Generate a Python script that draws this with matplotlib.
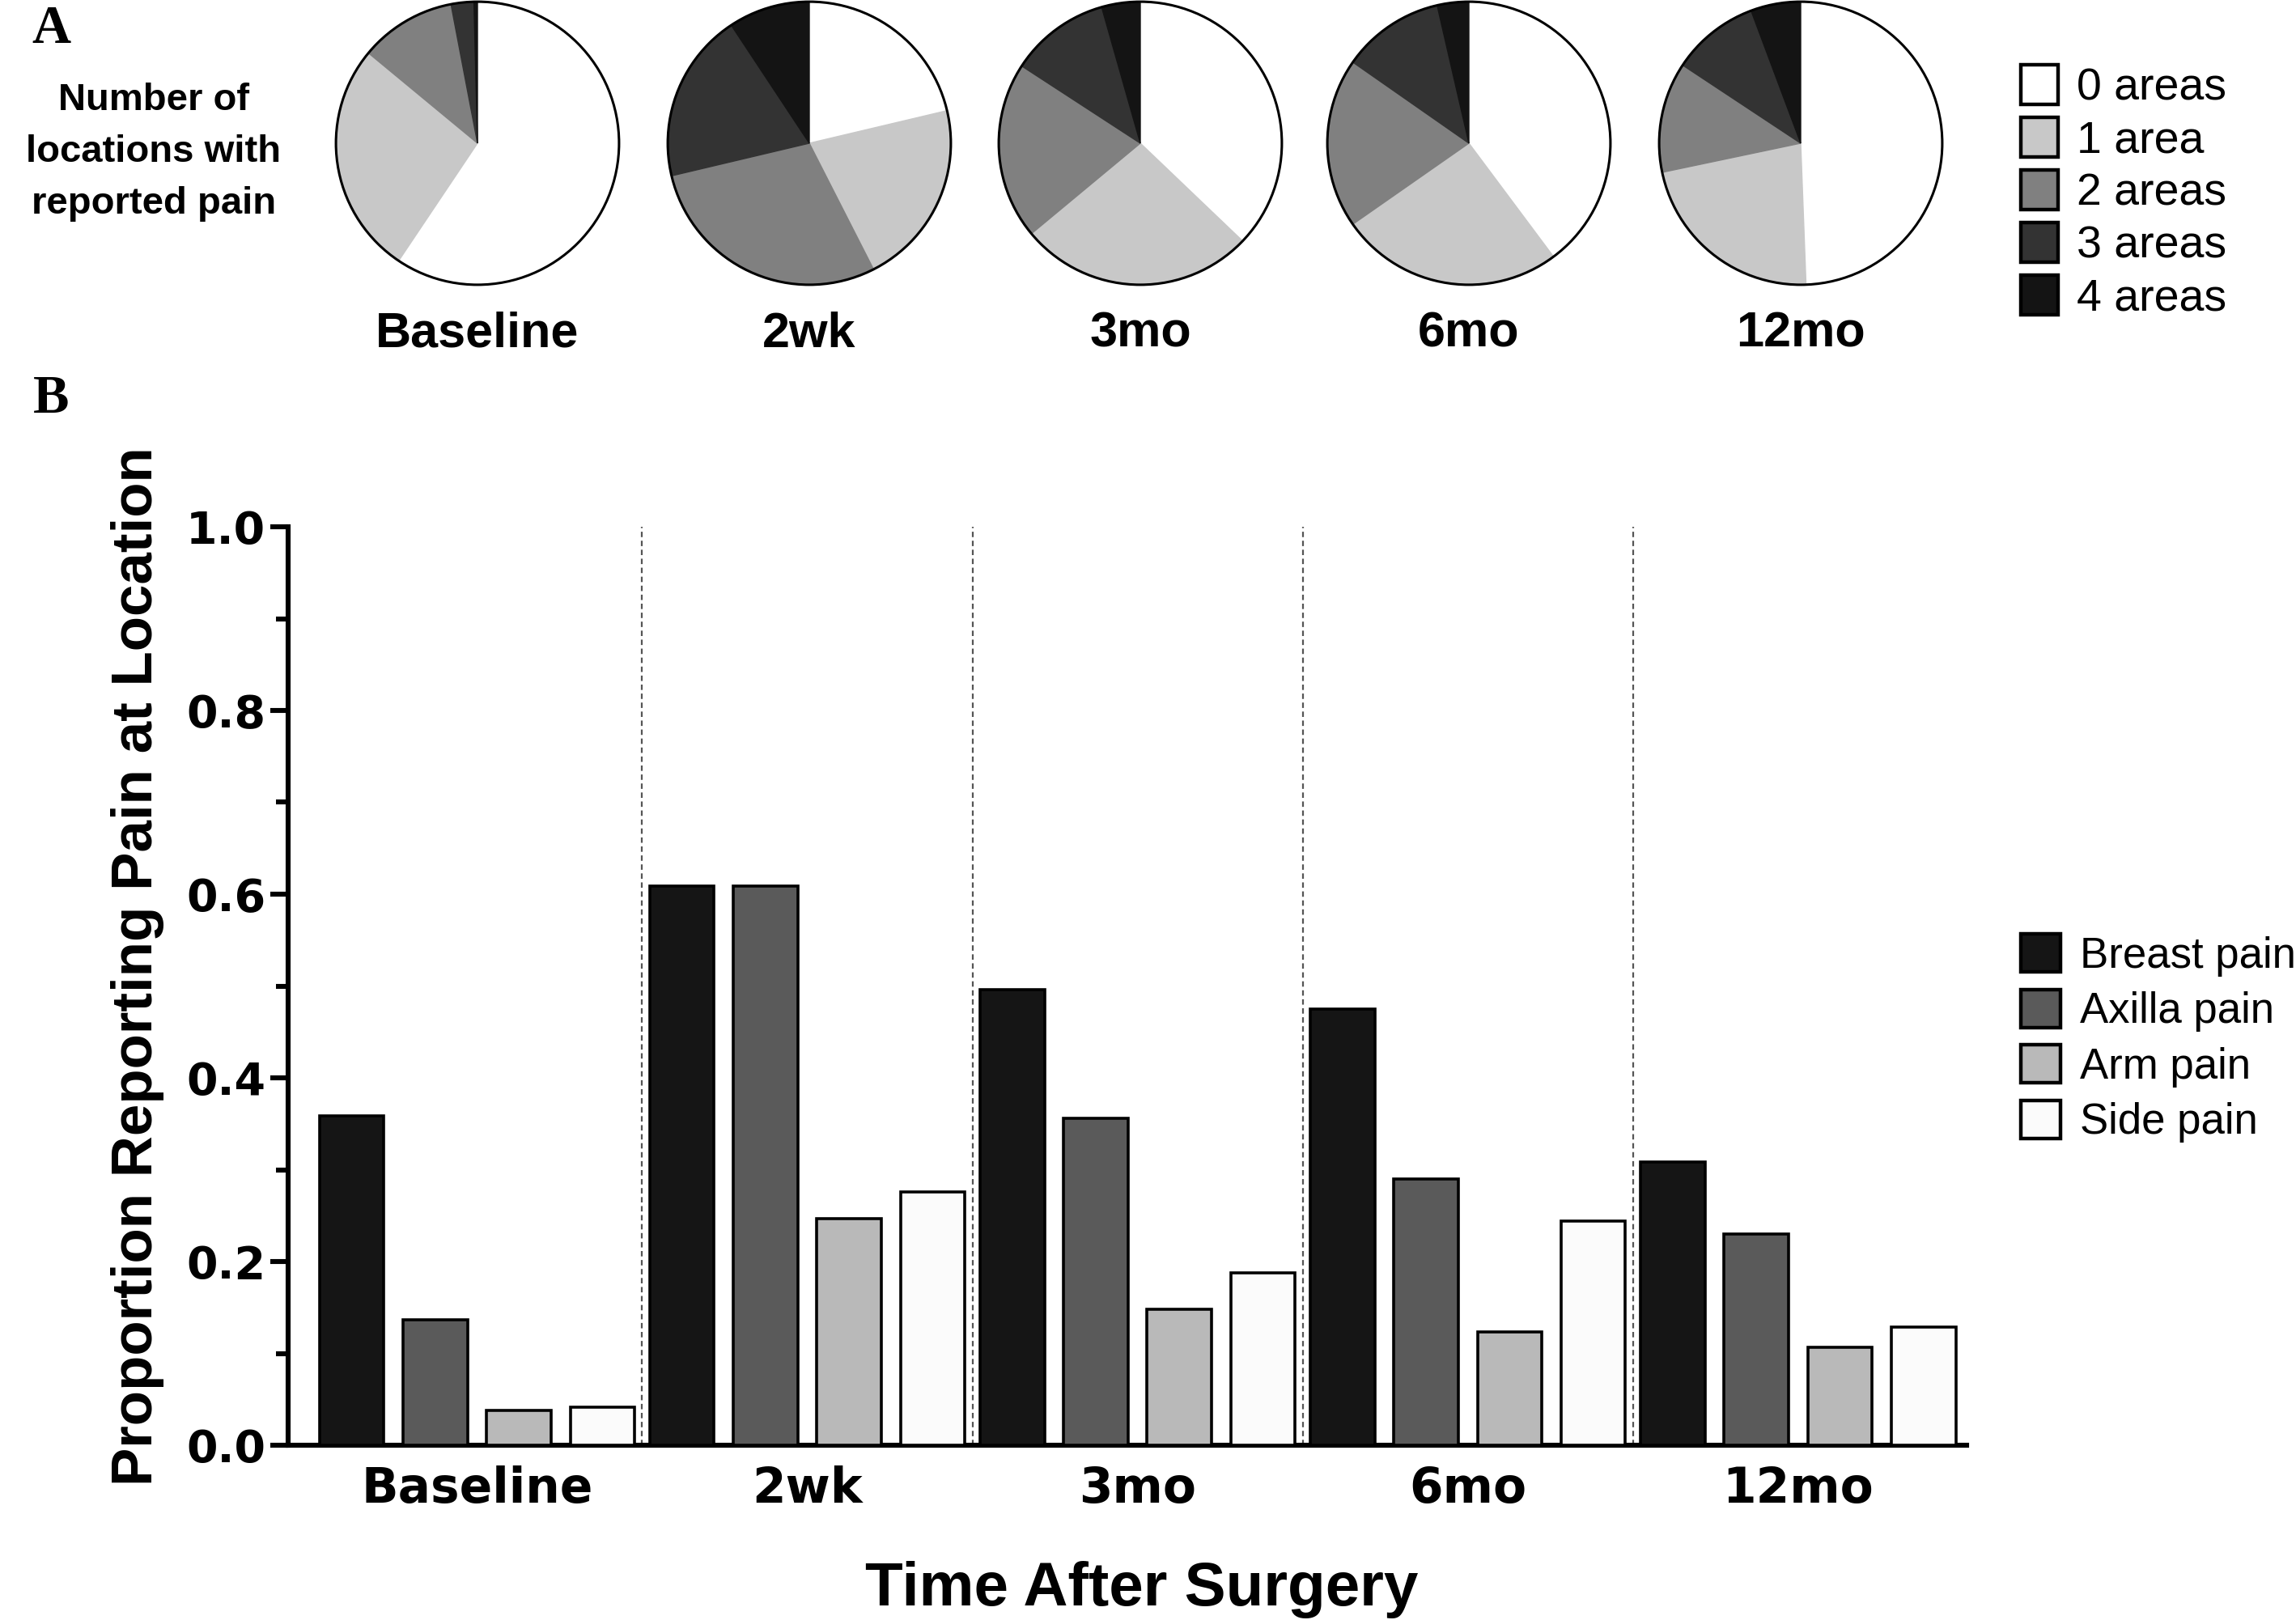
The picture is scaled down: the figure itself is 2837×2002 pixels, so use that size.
import matplotlib
matplotlib.use("Agg")
import matplotlib.pyplot as plt
import numpy as np
from matplotlib.patches import Patch, Circle
from matplotlib.ticker import MultipleLocator, FormatStrFormatter

timepoints = ["Baseline", "2wk", "3mo", "6mo", "12mo"]

# panel A: share of patients by number of painful locations
area_labels = ["0 areas", "1 area", "2 areas", "3 areas", "4 areas"]
area_colors = ["#ffffff", "#c8c8c8", "#808080", "#333333", "#141414"]
areas_baseline = [0.594, 0.266, 0.110, 0.026, 0.004]
areas_2wk = [0.213, 0.212, 0.288, 0.194, 0.093]
areas_3mo = [0.371, 0.268, 0.202, 0.114, 0.044]
areas_6mo = [0.398, 0.255, 0.194, 0.117, 0.036]
areas_12mo = [0.494, 0.223, 0.126, 0.100, 0.057]

# panel B: proportion reporting pain at each location
locations = ["Breast pain", "Axilla pain", "Arm pain", "Side pain"]
loc_colors = ["#151515", "#5a5a5a", "#b9b9b9", "#fbfbfb"]
breast = [0.359, 0.609, 0.496, 0.475, 0.308]
axilla = [0.137, 0.609, 0.356, 0.290, 0.230]
arm = [0.038, 0.247, 0.148, 0.123, 0.107]
side = [0.041, 0.276, 0.188, 0.244, 0.129]

W, H = 2837, 2002
SANS = ["Liberation Sans", "DejaVu Sans"]
WIDE = ["DejaVu Sans"]

fig = plt.figure(figsize=(W / 200, H / 200), dpi=200)

# ---- panel A: pies ----
pie_cx = [590, 1000, 1409, 1815, 2225]
pie_cy, pie_r = 177, 177
all_areas = [areas_baseline, areas_2wk, areas_3mo, areas_6mo, areas_12mo]
for cx, vals, name in zip(pie_cx, all_areas, timepoints):
    pax = fig.add_axes([(cx - pie_r) / W, (H - pie_cy - pie_r) / H,
                        2 * pie_r / W, 2 * pie_r / H])
    wedges, _ = pax.pie(vals, colors=area_colors, startangle=90,
                        counterclock=False, wedgeprops=dict(linewidth=0.5))
    for w in wedges:
        w.set_edgecolor(w.get_facecolor())
    pax.add_patch(Circle((0, 0), 1, fill=False, ec="black", lw=1.1, zorder=5))
    pax.set_xlim(-1.012, 1.012)
    pax.set_ylim(-1.012, 1.012)
    pax.text(0, -1.35, name, ha="center", va="center", fontsize=22,
             fontweight="bold", family=SANS, clip_on=False)

fig.text(190 / W, 1 - 188 / H, "Number of\nlocations with\nreported pain",
         ha="center", va="center", fontsize=17, fontweight="bold",
         family=SANS, linespacing=1.6)

pie_handles = [Patch(facecolor=c, edgecolor="black", linewidth=1.6)
               for c in area_colors]
fig.legend(pie_handles, area_labels, loc="upper left",
           bbox_to_anchor=(2497 / W, 1 - 80 / H), frameon=False,
           prop=dict(family=SANS, size=20), handlelength=0.82,
           handleheight=0.98, labelspacing=0.17, handletextpad=0.42,
           borderpad=0, borderaxespad=0)

# ---- panel B: bars ----
ax = fig.add_axes([356 / W, 216 / H, 2074 / W, 1135 / H])
x = np.arange(len(timepoints))
step, width = 0.253, 0.195
for j, (vals, col) in enumerate(zip([breast, axilla, arm, side], loc_colors)):
    ax.bar(x + (j - 1.5) * step, vals, width=width, color=col,
           edgecolor="black", linewidth=1.3, label=locations[j], zorder=3)

for k in x[:-1]:
    ax.axvline(k + 0.5, color="#555555", lw=0.8, ls=(0, (3, 2)), zorder=1)

ax.set_xlim(-0.572, 4.51)
ax.set_ylim(0, 1.0)
for s in ["top", "right"]:
    ax.spines[s].set_visible(False)
for s in ["left", "bottom"]:
    ax.spines[s].set_linewidth(2.2)

ax.set_yticks(np.arange(0, 1.01, 0.2))
ax.yaxis.set_minor_locator(MultipleLocator(0.1))
ax.yaxis.set_major_formatter(FormatStrFormatter("%.1f"))
ax.tick_params(axis="y", which="major", length=8, width=2.2, pad=2)
ax.tick_params(axis="y", which="minor", length=5.5, width=2.2)
ax.set_xticks(x, timepoints)
ax.tick_params(axis="x", length=0, pad=9)
for lab in ax.get_yticklabels():
    lab.set_fontsize(20)
    lab.set_fontweight("bold")
    lab.set_family(WIDE)
for lab in ax.get_xticklabels():
    lab.set_fontsize(21.5)
    lab.set_fontweight("bold")
    lab.set_family(WIDE)

ax.set_xlabel("Time After Surgery", fontsize=27.5, fontweight="bold", family=SANS)
ax.xaxis.set_label_coords(0.5087, -0.126)
ax.set_ylabel("Proportion Reporting Pain at Location", fontsize=25.5,
              fontweight="bold", family=SANS)
ax.yaxis.set_label_coords(-0.074, 0.5216)

bar_handles = [Patch(facecolor=c, edgecolor="black", linewidth=1.6)
               for c in loc_colors]
fig.legend(bar_handles, locations, loc="upper left",
           bbox_to_anchor=(2497 / W, 1 - 1154 / H), frameon=False,
           prop=dict(family=SANS, size=19), handlelength=0.93,
           handleheight=1.0, labelspacing=0.3, handletextpad=0.46,
           borderpad=0, borderaxespad=0)

# panel letters
fig.text(63 / W, 1 - 36 / H, "A", ha="center", va="center", fontsize=24,
         fontweight="bold", family=["Liberation Serif", "DejaVu Serif"])
fig.text(63 / W, 1 - 494 / H, "B", ha="center", va="center", fontsize=24,
         fontweight="bold", family=["Liberation Serif", "DejaVu Serif"])

fig.savefig("out.png", dpi=200)
